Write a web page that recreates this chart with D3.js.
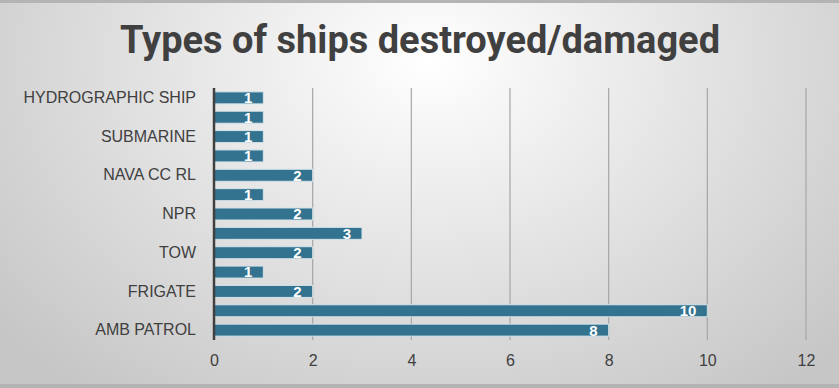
<!DOCTYPE html>
<html>
<head>
<meta charset="utf-8">
<script src="https://cdn.jsdelivr.net/npm/d3@7"></script>
<style>
  html, body { margin: 0; padding: 0; background: #bdbdbd; }
  svg { display: block; }
</style>
</head>
<body>
<div id="chart"></div>
<script>
// categories bottom -> top; only every other one is labelled in the original
const categories = ["AMB PATROL", "", "FRIGATE", "", "TOW", "", "NPR", "", "NAVA CC RL", "", "SUBMARINE", "", "HYDROGRAPHIC SHIP"];
const values = [8, 10, 2, 1, 2, 3, 2, 1, 2, 1, 1, 1, 1];
const xTicks = [0, 2, 4, 6, 8, 10, 12];

const width = 839, height = 388;
const margin = { top: 88, right: 33, bottom: 48, left: 214 };

const svg = d3.select("#chart").append("svg")
  .attr("width", width)
  .attr("height", height);

const defs = svg.append("defs");
const bg = defs.append("radialGradient")
  .attr("id", "bg")
  .attr("gradientUnits", "userSpaceOnUse")
  .attr("cx", 430).attr("cy", 60).attr("r", 560)
  .attr("gradientTransform", "translate(430,60) scale(1,0.75) translate(-430,-60)");
bg.append("stop").attr("offset", "0%").attr("stop-color", "#ffffff");
bg.append("stop").attr("offset", "100%").attr("stop-color", "#c6c6c6");

svg.append("rect")
  .attr("width", width).attr("height", height)
  .attr("fill", "#b4b4b4");
svg.append("rect")
  .attr("x", 0).attr("y", 3)
  .attr("width", width).attr("height", height - 7)
  .attr("fill", "url(#bg)");

const x = d3.scaleLinear()
  .domain([0, 12])
  .range([margin.left, width - margin.right]);

const y = d3.scaleBand()
  .domain(d3.range(categories.length))
  .range([height - margin.bottom, margin.top])
  .paddingInner(0.38)
  .paddingOuter(0.2);

// gridlines
svg.append("g")
  .selectAll("line")
  .data(xTicks.filter(d => d > 0))
  .join("line")
  .attr("x1", d => x(d)).attr("x2", d => x(d))
  .attr("y1", margin.top).attr("y2", height - margin.bottom)
  .attr("stroke", "#a6a6a6")
  .attr("stroke-width", 1.2);

// bars
svg.append("g")
  .selectAll("rect")
  .data(values)
  .join("rect")
  .attr("x", x(0))
  .attr("y", (d, i) => y(i))
  .attr("width", d => x(d) - x(0))
  .attr("height", y.bandwidth())
  .attr("fill", "#33738f")
  .attr("stroke", "#d6e3ea")
  .attr("stroke-width", 1);

// value labels
svg.append("g")
  .selectAll("text")
  .data(values)
  .join("text")
  .attr("x", d => x(d) - 11)
  .attr("y", (d, i) => y(i) + y.bandwidth() / 2)
  .attr("dy", "0.36em")
  .attr("text-anchor", "end")
  .attr("fill", "#ffffff")
  .style("font-family", "'Liberation Sans', Arial, sans-serif")
  .style("font-size", "15px")
  .style("font-weight", "bold")
  .text(d => d);

// y axis
const yAxis = svg.append("g")
  .attr("transform", `translate(${x(0)},0)`)
  .call(d3.axisLeft(y).tickSize(0).tickPadding(18).tickFormat(i => categories[i]));
yAxis.select(".domain")
  .attr("stroke", "#404040")
  .attr("stroke-width", 2.5)
  .attr("d", `M0,${margin.top}V${height - margin.bottom}`);
yAxis.selectAll("text")
  .attr("fill", "#404040")
  .style("font-family", "'Liberation Sans', Arial, sans-serif")
  .style("font-size", "16px");

// x axis
const xAxis = svg.append("g")
  .attr("transform", `translate(0,${height - margin.bottom})`)
  .call(d3.axisBottom(x).tickValues(xTicks).tickSize(0).tickPadding(15));
xAxis.select(".domain").remove();
xAxis.selectAll("text")
  .attr("fill", "#404040")
  .style("font-family", "'Liberation Sans', Arial, sans-serif")
  .style("font-size", "16px");

// title
svg.append("text")
  .attr("x", 420)
  .attr("y", 53)
  .attr("text-anchor", "middle")
  .attr("fill", "#404040")
  .style("font-family", "'Liberation Sans Narrow', 'Roboto', sans-serif")
  .style("font-size", "38px")
  .style("font-weight", "bold")
  .text("Types of ships destroyed/damaged");
</script>
</body>
</html>
